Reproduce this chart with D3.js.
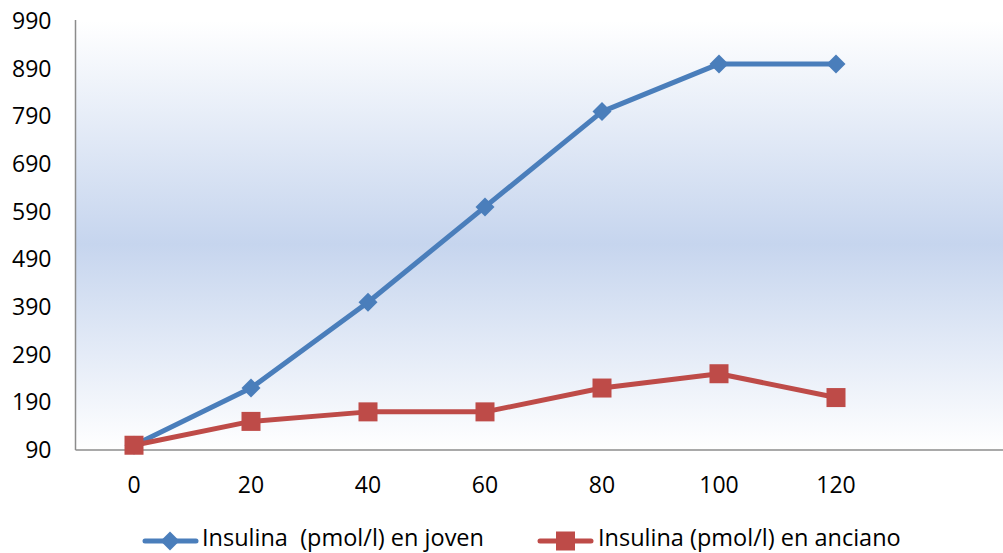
<!DOCTYPE html>
<html><head><meta charset="utf-8">
<script src="https://cdn.jsdelivr.net/npm/d3@7"></script>
<style>body{margin:0;background:#fff}svg{display:block}text{font-family:"Open Sans",sans-serif;white-space:pre}</style>
</head><body><svg id="c" width="1003" height="553"></svg>
<script>
const categories = ["0","20","40","60","80","100","120",""];
const joven = [100,220,400,600,800,900,900];
const anciano = [100,150,170,170,220,250,200];
const yTicks = [90,190,290,390,490,590,690,790,890,990];
const seriesNames = ["Insulina  (pmol/l) en joven","Insulina (pmol/l) en anciano"];

const svg = d3.select("#c");
const L=75.5, R=1011.5, T=21, B=450;
const x = d3.scaleBand().domain(categories).range([L,R]);
const y = d3.scaleLinear().domain([90,990]).range([B,T]);
const defs = svg.append("defs");
const g = defs.append("linearGradient").attr("id","bg").attr("x1",0).attr("x2",0).attr("y1",0).attr("y2",1);
g.append("stop").attr("offset","0%").attr("stop-color","#ffffff");
g.append("stop").attr("offset","52%").attr("stop-color","#c6d5ee");
g.append("stop").attr("offset","100%").attr("stop-color","#ffffff");
svg.append("rect").attr("x",L).attr("y",T).attr("width",R-L).attr("height",B-T).attr("fill","url(#bg)");

svg.append("line").attr("x1",L).attr("x2",L).attr("y1",T-1).attr("y2",B).attr("stroke","#8c8c8c").attr("stroke-width",1.5);
svg.append("line").attr("x1",L).attr("x2",R).attr("y1",B).attr("y2",B).attr("stroke","#8c8c8c").attr("stroke-width",1.5);

const fs = 23;
svg.selectAll(".yt").data(yTicks).enter().append("text")
  .attr("x",L-24).attr("y",d=>y(d)).attr("dy","0.35em").attr("text-anchor","end")
  .attr("font-size",fs).attr("fill","#000").text(d=>d);
svg.selectAll(".xt").data(categories).enter().append("text")
  .attr("x",d=>x(d)+x.bandwidth()/2).attr("y",B+43).attr("text-anchor","middle")
  .attr("font-size",fs).attr("fill","#000").text(d=>d);

const cx = (d,i)=>x(categories[i])+x.bandwidth()/2;
const line = d3.line().x(cx).y(d=>y(d));
const blue="#4a7ebb", red="#be4b48";
svg.append("path").datum(joven).attr("d",line).attr("fill","none").attr("stroke",blue).attr("stroke-width",5).attr("stroke-linejoin","round");
svg.append("path").datum(anciano).attr("d",line).attr("fill","none").attr("stroke",red).attr("stroke-width",5).attr("stroke-linejoin","round");
const diamond = s => `M0,${-s}L${s},0L0,${s}L${-s},0Z`;
svg.selectAll(".dj").data(joven).enter().append("path")
  .attr("transform",(d,i)=>`translate(${cx(d,i)},${y(d)})`).attr("d",diamond(9.5)).attr("fill",blue);
svg.selectAll(".sa").data(anciano).enter().append("rect")
  .attr("x",(d,i)=>cx(d,i)-9.5).attr("y",d=>y(d)-9.5).attr("width",19).attr("height",19).attr("fill",red);

// legend
const lg = svg.append("g");
const ly = 541, lfs = 23.5;
lg.append("line").attr("x1",145).attr("x2",196).attr("y1",ly).attr("y2",ly).attr("stroke",blue).attr("stroke-width",5).attr("stroke-linecap","round");
lg.append("path").attr("transform",`translate(170,${ly})`).attr("d",diamond(9.5)).attr("fill",blue);
lg.append("text").attr("x",202).attr("y",546).attr("font-size",lfs).text(seriesNames[0]);
lg.append("line").attr("x1",540).attr("x2",591).attr("y1",ly).attr("y2",ly).attr("stroke",red).attr("stroke-width",5).attr("stroke-linecap","round");
lg.append("rect").attr("x",556).attr("y",ly-9.5).attr("width",19).attr("height",19).attr("fill",red);
lg.append("text").attr("x",598).attr("y",546).attr("font-size",lfs).text(seriesNames[1]);
</script></body></html>
